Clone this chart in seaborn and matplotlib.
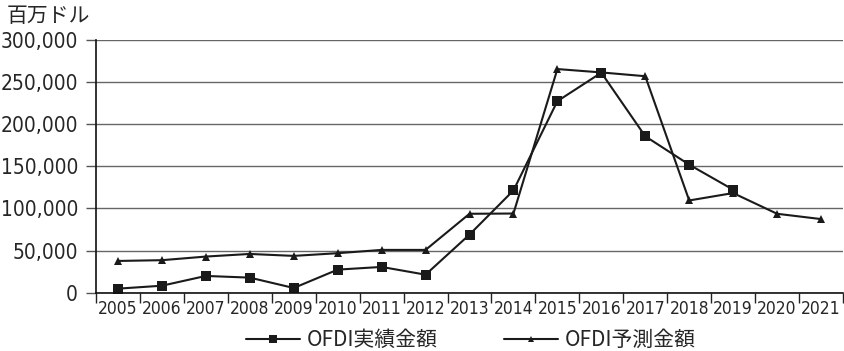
import matplotlib
matplotlib.use("Agg")
import matplotlib.pyplot as plt
from matplotlib.ticker import FixedLocator, FuncFormatter
from matplotlib.lines import Line2D
from matplotlib import font_manager
import seaborn as sns
import pandas as pd

# OFDI amounts, million USD
years_actual = [2005, 2006, 2007, 2008, 2009, 2010, 2011, 2012, 2013, 2014,
                2015, 2016, 2017, 2018, 2019]
actual = [4800, 8300, 19900, 17900, 5600, 27400, 30600, 21400, 69000, 121400,
          227400, 261200, 185700, 152000, 122300]

years_forecast = [2005, 2006, 2007, 2008, 2009, 2010, 2011, 2012, 2013, 2014,
                  2015, 2016, 2017, 2018, 2019, 2020, 2021]
forecast = [37700, 38600, 42900, 46000, 43700, 46900, 50800, 50800, 93700, 94000,
            265500, 261500, 257000, 109500, 118300, 93700, 87400]

label_actual = "OFDI実績金額"
label_forecast = "OFDI予測金額"
unit_label = "百万ドル"
y_ticks = [0, 50000, 100000, 150000, 200000, 250000, 300000]

sns.set_theme(style="white")
jp_font = ["Noto Sans CJK JP", "DejaVu Sans"]
plt.rcParams["font.family"] = ["DejaVu Sans", "Noto Sans CJK JP"]

# narrow face for the numeric tick labels, when one is installed
narrow = None
for f in font_manager.fontManager.ttflist:
    if f.name == "DejaVu Sans" and str(f.stretch) in ("condensed", "semi-condensed") and f.weight in (400, "normal") and f.style == "normal":
        narrow = font_manager.FontProperties(fname=f.fname)
        break
if narrow is None:
    for f in font_manager.fontManager.ttflist:
        if "Narrow" in f.name or "Condensed" in f.name:
            if f.weight in (400, "normal") and f.style == "normal":
                narrow = font_manager.FontProperties(fname=f.fname)
                break
if narrow is None:
    narrow = font_manager.FontProperties(family="DejaVu Sans")

df = pd.concat([
    pd.DataFrame({"year": years_actual, "value": actual, "series": label_actual}),
    pd.DataFrame({"year": years_forecast, "value": forecast, "series": label_forecast}),
])

fig = plt.figure(figsize=(8.44, 3.51), dpi=100)
ax = fig.add_axes([96 / 844, 58.3 / 351, 747 / 844, 252.7 / 351])

sns.lineplot(data=df, x="year", y="value", hue="series", style="series",
             markers={label_actual: "s", label_forecast: "^"}, dashes=False,
             palette={label_actual: "#1a1a1a", label_forecast: "#1a1a1a"},
             markersize=7, linewidth=1.5, markeredgewidth=0, ax=ax, legend=False)
# triangles are drawn a little smaller than the squares
for line in ax.get_lines():
    if line.get_marker() == "^":
        line.set_markersize(6)

ax.set_xlim(min(years_forecast) - 0.5, max(years_forecast) + 0.5)
ax.set_ylim(0, 300000)
ax.set_xticks(years_forecast)
ax.set_xticklabels([str(y) for y in years_forecast])
ax.xaxis.set_minor_locator(FixedLocator([y + 0.5 for y in [years_forecast[0] - 1] + years_forecast]))
ax.tick_params(axis="x", which="major", length=0, pad=5)
ax.tick_params(axis="x", which="minor", length=7, width=1, color="#222222", bottom=True, direction="out")

ax.set_yticks(y_ticks)
ax.yaxis.set_major_formatter(FuncFormatter(lambda v, p: f"{int(v):,}"))
ax.tick_params(axis="y", length=7, width=1, color="#555555", left=True, direction="out", pad=6)
for lab in ax.get_xticklabels():
    lab.set_fontproperties(narrow)
    lab.set_fontsize(12.5)
for lab in ax.get_yticklabels():
    lab.set_fontproperties(narrow)
    lab.set_fontsize(15)
ax.yaxis.grid(True, color="#666666", linewidth=1)
ax.xaxis.grid(False)

for s in ["top", "right"]:
    ax.spines[s].set_visible(False)
ax.spines["left"].set_color("#111111")
ax.spines["left"].set_linewidth(1.2)
ax.spines["bottom"].set_color("#111111")
ax.spines["bottom"].set_linewidth(1.2)

ax.set_xlabel("")
ax.set_ylabel("")
fig.text(7 / 844, 1 - 16 / 351, unit_label, fontsize=15, family=jp_font, va="center", ha="left")

# legend along the bottom
handles = [
    Line2D([], [], color="#1a1a1a", marker="s", markersize=6, linewidth=1.5, markeredgewidth=0),
    Line2D([], [], color="#1a1a1a", marker="^", markersize=5, linewidth=1.5, markeredgewidth=0),
]
fig.legend(handles, [label_actual, label_forecast], loc="center", bbox_to_anchor=(471 / 844, 1 - 340 / 351),
           ncol=2, frameon=False, prop={"family": jp_font, "size": 15}, handlelength=2.6,
           handletextpad=0.3, columnspacing=3.2)

fig.savefig("out.png", dpi=100)
